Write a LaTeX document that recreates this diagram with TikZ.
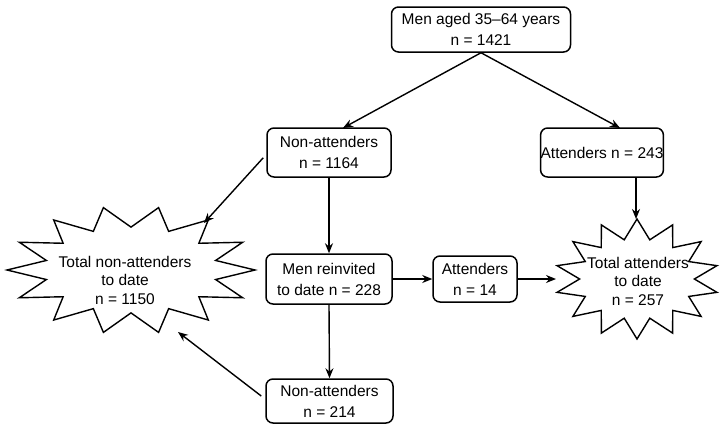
\documentclass[tikz,border=0pt]{standalone}
\usepackage{fontspec}
\setmainfont{Liberation Sans}
\usetikzlibrary{arrows.meta}
\begin{document}
\begin{tikzpicture}[x=1pt,y=-1pt,
  box/.style={draw,line width=1.5pt,rounded corners=7pt,align=center,inner sep=0pt,
    font=\fontsize{15.5}{21}\selectfont},
  txt/.style={align=center,font=\fontsize{15.5}{18.5}\selectfont},
  arr/.style={line width=1.4pt,-{Stealth[length=10pt,width=8pt]}},
  starline/.style={line width=1.4pt,line join=miter}]
\useasboundingbox (0,0) rectangle (720,426);
% boxes
\node[box,minimum width=179pt,minimum height=45pt] (top) at (481,29.5) {Men aged 35--64 years\\n = 1421};
\node[box,minimum width=124pt,minimum height=49pt] (na1) at (329,152.5) {Non-attenders\\n = 1164};
\node[box,minimum width=122pt,minimum height=49pt] (at1) at (602,152.5) {Attenders n = 243};
\node[box,minimum width=126pt,minimum height=50pt] (rei) at (329,279) {Men reinvited\\to date n = 228};
\node[box,minimum width=84pt,minimum height=46pt] (at2) at (475,279) {Attenders\\n = 14};
\node[box,minimum width=127pt,minimum height=44pt] (na2) at (329.5,401) {Non-attenders\\n = 214};
% starbursts
\draw[starline] plot[samples at={0,...,27}] ({131+(1-0.30*mod(\x,2))*124*cos(\x*360/28)},{270+(1-0.33*mod(\x,2))*64*sin(\x*360/28)}) -- cycle;
\node[txt] (tna) at (125,280) {Total non-attenders\\to date\\n = 1150};
\draw[starline] plot[samples at={0,...,27}] ({637+(1-0.30*mod(\x,2))*82*cos(\x*360/28+90)},{279+(1-0.33*mod(\x,2))*60*sin(\x*360/28+90)}) -- cycle;
\node[txt] (tat) at (638,281) {Total attenders\\to date\\n = 257};
% endpoints
\coordinate (na1t) at (343,128);
\coordinate (at1t) at (620,128);
\coordinate (sl1) at (204,223);
\coordinate (sl2) at (178,332);
\coordinate (sr1) at (636,219);
\coordinate (sr2) at (556,279);
\coordinate (a1s) at (636,177);
% arrows
\draw[arr] (top.south) -- (na1t);
\draw[arr] (top.south) -- (at1t);
\draw[arr] (na1.south) -- (rei.north);
\draw[arr] (na1.south west) ++(-3,-20) -- (sl1);
\draw[arr] (a1s) -- (sr1);
\draw[arr] (rei.east) -- (at2.west);
\draw[arr] (at2.east) -- (sr2);
\draw[arr] (rei.south) -- (na2.north);
\draw[arr] (na2.west) ++(-4,-5) -- (sl2);
\end{tikzpicture}
\end{document}
